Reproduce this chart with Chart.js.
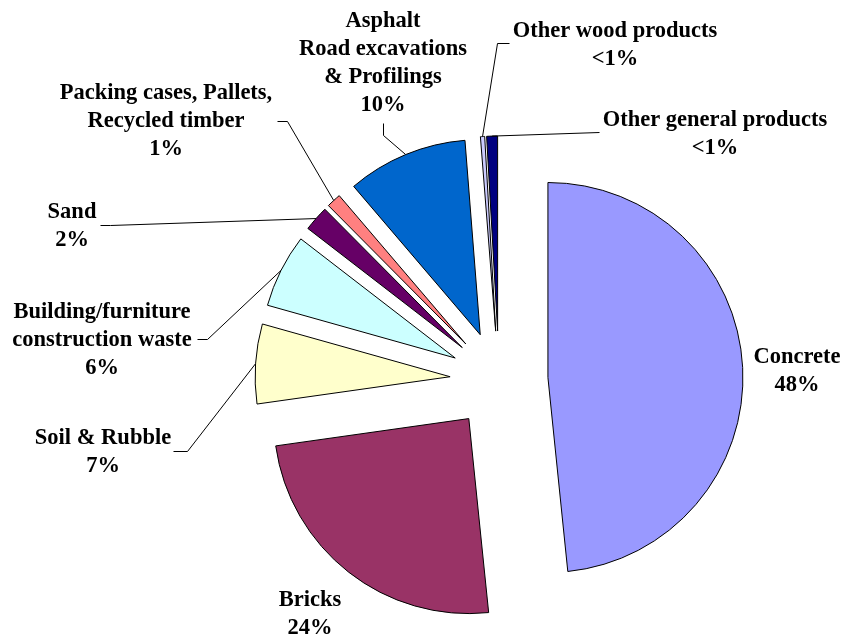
<!DOCTYPE html>
<html><head><meta charset="utf-8">
<script src="https://cdn.jsdelivr.net/npm/chart.js@4/dist/chart.umd.min.js"></script>
<style>html,body{margin:0;padding:0;background:#fff;overflow:hidden}canvas{display:block}</style>
</head><body>
<canvas id="c" width="843" height="636"></canvas>
<script>
// ---- data ----
const categories = [
  ["Concrete"],
  ["Bricks"],
  ["Soil & Rubble"],
  ["Building/furniture", "construction waste"],
  ["Sand"],
  ["Packing cases, Pallets,", "Recycled timber"],
  ["Asphalt", "Road excavations", "& Profilings"],
  ["Other wood products"],
  ["Other general products"]
];
const shares = [48.4, 24.4, 6.6, 6.1, 2.1, 1.2, 10.0, 0.35, 0.9];
const percentLabels = ["48%", "24%", "7%", "6%", "2%", "1%", "10%", "<1%", "<1%"];

// ---- styles / layout ----
const colors = ["#9999FF", "#993366", "#FFFFCC", "#CCFFFF", "#660066", "#FF8080", "#0066CC", "#CCCCFF", "#000080"];
const EXPLODE = 49;      // px each slice is pulled out (Excel-style uniform explosion)
const RADIUS = 195;
const FONT = 'bold 22.5px "Liberation Serif", "Times New Roman", serif';
const LINE_H = 28;
const labelLayout = [
  { x: 797, y: 363 },
  { x: 310, y: 606 },
  { x: 103, y: 444, leader: [[173, 451], [187, 451]] },
  { x: 102, y: 318, leader: [[197, 339], [207, 339]] },
  { x: 72,  y: 218, leader: [[100, 225], [110, 225]] },
  { x: 166, y: 99,  leader: [[277, 121], [287, 121]] },
  { x: 383, y: 27,  leader: [[383, 123], [383, 135]] },
  { x: 615, y: 37,  leader: [[509, 43], [497, 43]] },
  { x: 715, y: 126, leader: [[599, 132]] }
];

// Draw each library arc element pushed out along its mid-angle by a uniform distance
const explodedDraw = {
  id: 'explodedDraw',
  beforeDatasetDraw(chart, args) {
    const ctx = chart.ctx;
    args.meta.data.forEach(el => {
      const mid = (el.startAngle + el.endAngle) / 2;
      ctx.save();
      ctx.translate(Math.cos(mid) * EXPLODE, Math.sin(mid) * EXPLODE);
      el.draw(ctx, chart.chartArea);
      ctx.restore();
    });
    return false;
  }
};

const labelPlugin = {
  id: 'pieLabels',
  afterDatasetsDraw(chart) {
    const ctx = chart.ctx;
    const meta = chart.getDatasetMeta(0);
    ctx.save();
    ctx.strokeStyle = '#000';
    ctx.lineWidth = 1;
    meta.data.forEach((el, i) => {
      const lay = labelLayout[i];
      if (lay.leader) {
        const mid = (el.startAngle + el.endAngle) / 2;
        const r = el.outerRadius + EXPLODE;
        const px = el.x + Math.cos(mid) * r;
        const py = el.y + Math.sin(mid) * r;
        ctx.beginPath();
        ctx.moveTo(lay.leader[0][0] + 0.5, lay.leader[0][1] + 0.5);
        for (let k = 1; k < lay.leader.length; k++) ctx.lineTo(lay.leader[k][0] + 0.5, lay.leader[k][1] + 0.5);
        ctx.lineTo(px, py);
        ctx.stroke();
      }
      ctx.fillStyle = '#000';
      ctx.font = FONT;
      ctx.textAlign = 'center';
      ctx.textBaseline = 'alphabetic';
      const lines = categories[i].concat([percentLabels[i]]);
      lines.forEach((t, k) => ctx.fillText(t, lay.x, lay.y + k * LINE_H));
    });
    ctx.restore();
  }
};

function draw() {
  new Chart(document.getElementById('c'), {
    type: 'pie',
    data: {
      labels: categories.map(c => c.join(' ')),
      datasets: [{
        data: shares,
        backgroundColor: colors,
        borderColor: '#000',
        borderWidth: 1,
        borderJoinStyle: 'miter',
        offset: 0,
        hoverOffset: 0,
        clip: false
      }]
    },
    options: {
      responsive: false,
      animation: false,
      events: [],
      radius: RADIUS,
      layout: { padding: { left: 155, top: 124, right: 0, bottom: 0 } },
      plugins: { legend: { display: false }, tooltip: { enabled: false } }
    },
    plugins: [explodedDraw, labelPlugin]
  });
}
if (document.fonts && document.fonts.load) {
  document.fonts.load(FONT).then(draw, draw);
} else { draw(); }
</script>
</body></html>
